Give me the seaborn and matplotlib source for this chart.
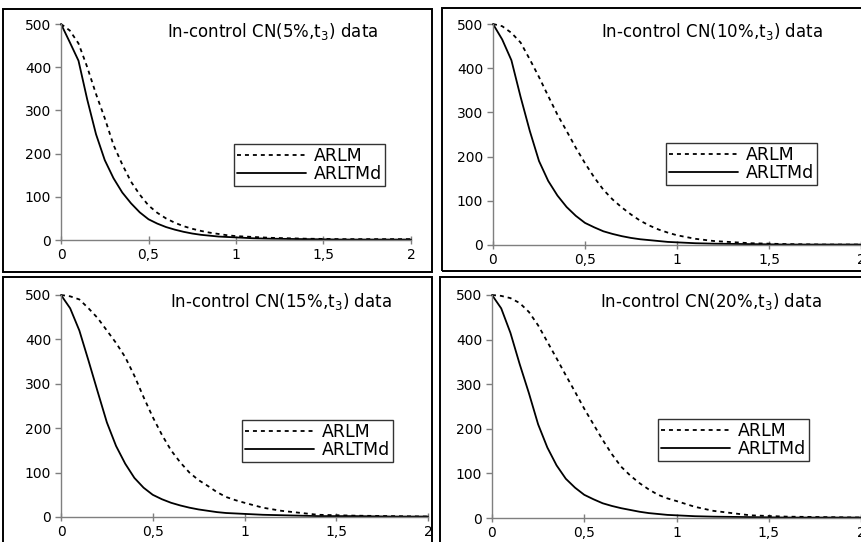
"""
Four ARL panels (ARLM vs ARLTMd) for in-control CN(p%, t3) data.
Layout is laid out by hand in pixels so it lines up with the original figure.
"""
import pandas as pd
import seaborn as sns
from matplotlib import pyplot as plt
from matplotlib.patches import Rectangle

W, H = 861, 542

# shift size (x axis)
delta = [0, 0.05, 0.1, 0.15, 0.2, 0.25, 0.3, 0.35, 0.4, 0.45, 0.5,
         0.55, 0.6, 0.65, 0.7, 0.75, 0.8, 0.85, 0.9, 0.95, 1.0,
         1.1, 1.2, 1.4, 1.6, 1.8, 2.0]

arlm_5 = [500, 485, 455, 400, 338, 282, 220, 175, 135, 105, 80,
          63, 50, 40, 32, 26, 21, 17, 14, 11, 9, 7, 5, 3, 2, 2, 2]
arltmd_5 = [500, 458, 415, 325, 245, 185, 143, 110, 85, 64, 48,
            38, 30, 24, 19, 15, 12, 10, 8, 7, 6, 4, 3, 2, 1, 1, 1]
arlm_10 = [500, 495, 480, 458, 420, 380, 337, 295, 258, 220, 185,
           153, 125, 103, 85, 69, 55, 44, 35, 28, 22, 14, 9, 4, 2, 1, 1]
arltmd_10 = [500, 465, 418, 335, 258, 190, 145, 112, 86, 66, 50,
             40, 31, 25, 20, 16, 13, 11, 9, 7, 6, 4, 3, 2, 1, 1, 1]
arlm_15 = [500, 497, 490, 470, 448, 420, 392, 360, 318, 270, 225,
           185, 150, 123, 100, 83, 70, 56, 45, 38, 32, 21, 14, 5, 3, 2, 1]
arltmd_15 = [500, 470, 420, 352, 282, 213, 160, 120, 88, 66, 50,
             40, 32, 26, 21, 17, 14, 11, 9, 8, 7, 5, 4, 2, 2, 1, 1]
arlm_20 = [500, 498, 493, 482, 462, 432, 395, 358, 320, 283, 245,
           210, 175, 143, 115, 95, 78, 64, 52, 44, 38, 25, 16, 6, 3, 2, 1]
arltmd_20 = [500, 470, 415, 345, 280, 210, 158, 118, 88, 68, 52,
             42, 33, 27, 22, 18, 14, 11, 9, 7, 6, 4, 3, 2, 1, 1, 1]

contamination = ["5%", "10%", "15%", "20%"]
x_ticks = [0, 0.5, 1, 1.5, 2]
x_ticklabels = ["0", "0,5", "1", "1,5", "2"]
y_ticks = [0, 100, 200, 300, 400, 500]

series = {
    "5%": (arlm_5, arltmd_5),
    "10%": (arlm_10, arltmd_10),
    "15%": (arlm_15, arltmd_15),
    "20%": (arlm_20, arltmd_20),
}

sns.set_style("white")
plt.rcParams["font.family"] = ["DejaVu Sans"]
plt.rcParams["mathtext.default"] = "regular"
plt.rcParams["text.color"] = "black"

# pixel boxes: axes (left, top, right, bottom), border, legend top-left, title centre
layout = {
    "5%": dict(ax=(61, 24, 411, 240), border=(3, 9, 432, 272), leg=(234, 144), title=(273, 32)),
    "10%": dict(ax=(493, 24, 861, 245), border=(442, 8, 875, 271), leg=(666, 143), title=(712, 32)),
    "15%": dict(ax=(61, 295, 428, 517), border=(3, 277, 432, 560), leg=(242, 420), title=(281, 302)),
    "20%": dict(ax=(492, 295, 861, 518), border=(440, 277, 875, 560), leg=(658, 419), title=(711, 302)),
}


def px_rect(left, top, right, bottom):
    return [left / W, 1 - bottom / H, (right - left) / W, (bottom - top) / H]


fig = plt.figure(figsize=(W / 100, H / 100), dpi=100)

for pct in contamination:
    arlm, arltmd = series[pct]
    lay = layout[pct]

    # outer box round each chart
    bx = lay["border"]
    fig.add_artist(Rectangle((bx[0] / W, 1 - bx[3] / H), (bx[2] - bx[0]) / W,
                             (bx[3] - bx[1]) / H, transform=fig.transFigure,
                             fill=False, ec="black", lw=1.4, clip_on=False))

    ax = fig.add_axes(px_rect(*lay["ax"]))
    ax.set_facecolor("none")

    df = pd.DataFrame({
        "delta": delta * 2,
        "ARL": arlm + arltmd,
        "chart": ["ARLM"] * len(delta) + ["ARLTMd"] * len(delta),
    })
    sns.lineplot(data=df, x="delta", y="ARL", style="chart",
                 dashes={"ARLM": (2.2, 2.2), "ARLTMd": ""},
                 color="black", lw=1.3, ax=ax, clip_on=False)

    ax.set_xlim(0, 2)
    ax.set_ylim(0, 500)
    ax.set_xticks(x_ticks, x_ticklabels)
    ax.set_yticks(y_ticks)
    ax.set_xlabel("")
    ax.set_ylabel("")
    ax.spines[["top", "right"]].set_visible(False)
    for side in ["left", "bottom"]:
        ax.spines[side].set_color("#7f7f7f")
        ax.spines[side].set_linewidth(1.0)
    ax.tick_params(axis="x", direction="inout", length=6, width=1, color="#7f7f7f",
                   labelcolor="black", labelsize=10, pad=3, bottom=True)
    ax.tick_params(axis="y", direction="out", length=4, width=1, color="#7f7f7f",
                   labelcolor="black", labelsize=10, pad=3, left=True)

    lx, ly = lay["leg"]
    leg = ax.legend(loc="upper left", bbox_to_anchor=(lx / W, 1 - ly / H),
                    bbox_transform=fig.transFigure, frameon=True, fancybox=False,
                    edgecolor="black", fontsize=12.5, handlelength=4.0,
                    handletextpad=0.45, labelspacing=0.05, borderpad=0.15,
                    borderaxespad=0)
    leg.get_frame().set_linewidth(1.0)
    for t in leg.get_texts():
        t.set_color("black")

    tx, ty = lay["title"]
    fig.text(tx / W, 1 - ty / H, f"In-control CN({pct},t$_3$) data",
             ha="center", va="center", fontsize=12)

plt.savefig("out.png", dpi=100)
